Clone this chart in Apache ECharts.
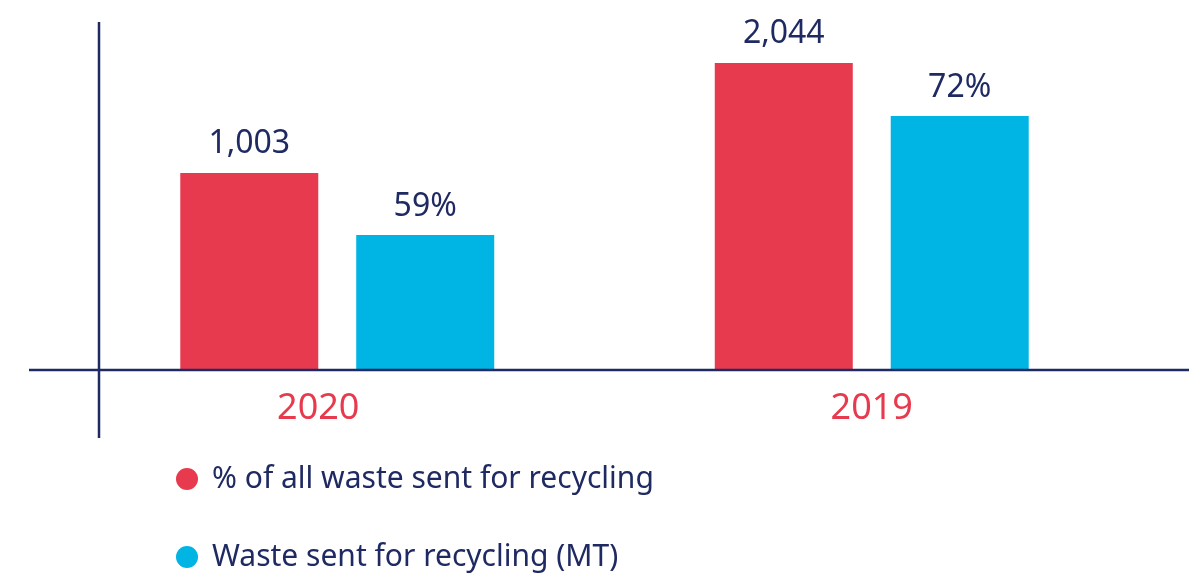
<!DOCTYPE html>
<html>
<head>
<meta charset="utf-8">
<script src="https://cdn.jsdelivr.net/npm/echarts@6/dist/echarts.min.js"></script>
<style>
  html, body { margin: 0; padding: 0; background: #fff; }
  #chart { width: 1189px; height: 574px; }
</style>
</head>
<body>
<div id="chart"></div>
<script>
// 数据
const years = ['2020', '2019']
const redValues = [1003, 2044]   // % of all waste sent for recycling
const blueValues = [59, 72]      // Waste sent for recycling (MT)
const seriesNames = ['% of all waste sent for recycling', 'Waste sent for recycling (MT)']

const NAVY = '#1f2a62'
const RED = '#e83a4e'
const BLUE = '#00b4e4'
const FONT = 'Noto Sans'

const chart = echarts.init(document.getElementById('chart'))
chart.setOption({
  animation: false,
  textStyle: { fontFamily: FONT },
  legend: {
    orient: 'vertical',
    left: 171,
    top: 459,
    height: 200,
    icon: 'circle',
    itemWidth: 22,
    itemHeight: 22,
    itemGap: 48,
    data: seriesNames,
    textStyle: { color: NAVY, fontSize: 30, fontFamily: FONT, padding: [0, 0, 0, 9] }
  },
  grid: { left: 70, right: 50, top: 22, bottom: 204 },
  xAxis: {
    type: 'category',
    data: [
      // 2020 标签在原图中略偏左
      { value: years[0], textStyle: { padding: [0, 38, 0, 0] } },
      years[1]
    ],
    axisLine: { show: false },
    axisTick: { show: false },
    axisLabel: { color: RED, fontSize: 36, margin: 21, fontFamily: FONT }
  },
  yAxis: [
    // 两个系列各自一根隐藏的值轴，按原图柱高设定范围
    { type: 'value', min: -861, max: 2432, startValue: -861, show: false, splitLine: { show: false } },
    { type: 'value', min: 44.25, max: 82.27, startValue: 44.25, show: false, splitLine: { show: false } }
  ],
  series: [
    {
      name: seriesNames[0],
      type: 'bar',
      yAxisIndex: 0,
      data: redValues,
      barWidth: 138,
      barGap: '27.5%',
      itemStyle: { color: RED },
      label: {
        show: true,
        position: 'top',
        distance: 13,
        color: NAVY,
        fontSize: 32,
        fontFamily: FONT,
        formatter: p => p.value.toLocaleString('en-US')
      }
    },
    {
      name: seriesNames[1],
      type: 'bar',
      yAxisIndex: 1,
      data: blueValues,
      barWidth: 138,
      barGap: '27.5%',
      itemStyle: { color: BLUE },
      label: {
        show: true,
        position: 'top',
        distance: 12,
        color: NAVY,
        fontSize: 32,
        fontFamily: FONT,
        formatter: p => p.value + '%'
      }
    }
  ],
  // 十字形坐标轴线（超出绘图区）
  graphic: [
    { type: 'line', shape: { x1: 99, y1: 22, x2: 99, y2: 438 }, style: { stroke: NAVY, lineWidth: 2.5 }, z: 10 },
    { type: 'line', shape: { x1: 29, y1: 370, x2: 1189, y2: 370 }, style: { stroke: NAVY, lineWidth: 2.5 }, z: 10 }
  ]
})
</script>
</body>
</html>
